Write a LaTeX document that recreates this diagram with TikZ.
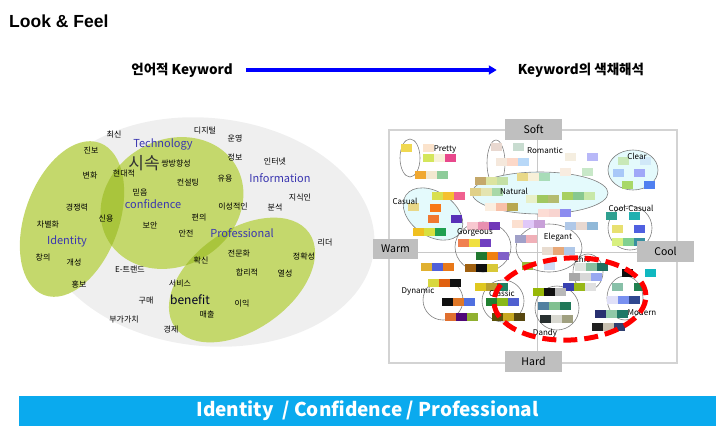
\documentclass[tikz,border=0pt]{standalone}
\usepackage{fontspec}
\setmainfont{Noto Sans CJK KR}
\newfontfamily\arialfont{Liberation Sans}
\usetikzlibrary{arrows.meta}

\definecolor{bggray}{HTML}{EFEFEF}
\definecolor{lgreen}{HTML}{C4D86C}
\definecolor{dgreen}{HTML}{A9C53C}
\definecolor{wordblue}{HTML}{3A36B0}
\definecolor{linegray}{HTML}{C8C8C8}
\definecolor{boxgray}{HTML}{BFBFBF}
\definecolor{lcyan}{HTML}{E4FAFC}
\definecolor{barblue}{HTML}{0AAAEE}

\tikzset{
  kw/.style={inner sep=0pt, font=\fontsize{8}{9}\selectfont},
  en/.style={inner sep=0pt, text=wordblue, font=\fontsize{11}{12}\selectfont},
  tag/.style={inner sep=0pt, font=\fontsize{8}{9}\selectfont},
  axlab/.style={fill=boxgray, inner sep=0pt, minimum width=57pt, minimum height=21pt, font=\fontsize{10.5}{11}\selectfont},
  ring/.style={draw=gray, line width=0.6pt}
}

% one colour chip of the colour chart
\newcommand{\swatch}[3]{\definecolor{swc}{HTML}{#3}\fill[swc] (#1,#2) rectangle ++(11,8);}

\begin{document}
\begin{tikzpicture}[x=1pt, y=-1pt]
\useasboundingbox (0,0) rectangle (723,432);

% Title
\node[anchor=west, inner sep=0pt, font=\arialfont\bfseries\fontsize{17.5}{19}\selectfont] (title) at (9,21) {Look \& Feel};

% Keyword arrow
\node[inner sep=0pt, font=\bfseries\fontsize{13.5}{15}\selectfont] (kwA) at (182,70) {언어적 Keyword};
\node[inner sep=0pt, font=\bfseries\fontsize{13.5}{15}\selectfont] (kwB) at (581,70) {Keyword의 색채해석};
\draw[blue, line width=3.5pt, shorten <=13pt, shorten >=21pt, -{Triangle[length=8pt, width=9pt]}] (kwA) -- (kwB);

%Left: keyword map
\fill[bggray, rotate around={-6:(207,232)}] (207,232) ellipse [x radius=168pt, y radius=114pt];
\fill[lgreen, rotate around={70:(72,219)}] (72,219) ellipse [x radius=81pt, y radius=47pt];
\fill[lgreen, rotate around={30:(172,203)}] (172,203) ellipse [x radius=74pt, y radius=63pt];
\fill[lgreen, rotate around={35:(242,280)}] (242,280) ellipse [x radius=82pt, y radius=50pt];
% overlaps
\begin{scope}
\clip[rotate around={70:(72,219)}] (72,219) ellipse [x radius=81pt, y radius=47pt];
\fill[dgreen, rotate around={30:(172,203)}] (172,203) ellipse [x radius=74pt, y radius=63pt];
\end{scope}
\begin{scope}
\clip[rotate around={35:(242,280)}] (242,280) ellipse [x radius=82pt, y radius=50pt];
\fill[dgreen, rotate around={30:(172,203)}] (172,203) ellipse [x radius=74pt, y radius=63pt];
\end{scope}

% english keywords
\node[en] (tech) at (163,144) {Technology};
\node[en] (info) at (280,178) {Information};
\node[en] (conf) at (153,204) {confidence};
\node[en] (prof) at (242,233) {Professional};
\node[en] (iden) at (67,241) {Identity};
\node[en, text=black!85!blue, font=\fontsize{12}{13}\selectfont] (bene) at (190,300) {benefit};
\node[kw, text=black!80, font=\fontsize{17}{18}\selectfont] (sisok) at (144,163) {시속};

% korean keywords
\node[kw] (choesin) at (114,135) {최신};
\node[kw] (digital) at (205,131) {디지털};
\node[kw] (unyeong) at (235,138) {운영};
\node[kw] (jinbo) at (91,150) {진보};
\node[kw] (jeongbo) at (235,157) {정보};
\node[kw] (ssang) at (176,163) {쌍방향성};
\node[kw] (internet) at (275,162) {인터넷};
\node[kw] (byeonhwa) at (90,175) {변화};
\node[kw] (hyeondae) at (124,173) {현대적};
\node[kw] (yuyong) at (225,179) {유용};
\node[kw] (consult) at (188,182) {컨설팅};
\node[kw] (mideum) at (140,192) {믿음};
\node[kw] (jisik) at (300,197) {지식인};
\node[kw] (gyeong) at (77,208) {경쟁력};
\node[kw] (iseong) at (233,207) {이성적인};
\node[kw] (bunseok) at (275,207) {분석};
\node[kw] (sinyong) at (106,218) {신용};
\node[kw] (pyeonui) at (199,218) {편의};
\node[kw] (chabyeol) at (48,224) {차별화};
\node[kw] (boan) at (150,225) {보안};
\node[kw] (anjeon) at (186,233) {안전};
\node[kw] (rider) at (325,243) {리더};
\node[kw] (changui) at (43,257) {창의};
\node[kw] (jeonmun) at (239,253) {전문화};
\node[kw] (jeonghwak) at (304,256) {정확성};
\node[kw] (hwaksin) at (201,260) {확신};
\node[kw] (gaeseong) at (74,262) {개성};
\node[kw] (etrend) at (130,269) {E-트랜드};
\node[kw] (hamni) at (247,272) {합리적};
\node[kw] (yeolseong) at (285,273) {열성};
\node[kw] (hongbo) at (79,284) {홍보};
\node[kw] (service) at (180,284) {서비스};
\node[kw] (gumae) at (146,301) {구매};
\node[kw] (iik) at (242,304) {이익};
\node[kw] (maechul) at (207,314) {매출};
\node[kw] (bugagachi) at (124,319) {부가가치};
\node[kw] (gyeongje) at (171,329) {경제};

%Right: colour chart frame and axes
\draw[linegray!80, line width=2.5pt] (389,130) rectangle (677,363);
\draw[linegray, line width=0.8pt] (537,130) -- (537,363);
\draw[linegray, line width=0.8pt] (389,252) -- (677,252);

% groups
\draw[ring] (410,158) ellipse [x radius=10pt, y radius=19pt];
\draw[ring] (496,163) ellipse [x radius=9pt, y radius=23pt];
\filldraw[ring, fill=lcyan] (540,193) ellipse [x radius=68pt, y radius=21pt];
\filldraw[ring, fill=lcyan, rotate around={-35:(433,214)}] (433,214) ellipse [x radius=33pt, y radius=22pt];
\filldraw[ring, fill=lcyan] (633,170) ellipse [x radius=25pt, y radius=20pt];
\draw[ring] (630,228) ellipse [x radius=22pt, y radius=22pt];
\draw[ring] (483,247) ellipse [x radius=28pt, y radius=25pt];
\draw[ring] (549,248) ellipse [x radius=33pt, y radius=24pt];
\draw[ring] (588,272) ellipse [x radius=15pt, y radius=18pt];
\draw[ring] (443,300) ellipse [x radius=20pt, y radius=20pt];
\draw[ring] (503,301) ellipse [x radius=21pt, y radius=21pt];
\draw[ring] (557,308) ellipse [x radius=22pt, y radius=22pt];
\draw[ring] (625,298) ellipse [x radius=18pt, y radius=22pt];

%Pretty
\swatch{401}{144}{F0D850} \swatch{423}{144}{FBE3CC}
\swatch{423}{154}{D4E65C} \swatch{434}{154}{F8F2D8} \swatch{445}{154}{E8488C}
\swatch{415}{171}{F0A830} \swatch{426}{171}{F2E8D0} \swatch{437}{171}{8ECC9A}
%Romantic
\swatch{491}{143}{E8D8D0} \swatch{513}{143}{C8DCD0}
\swatch{496}{158}{F5E8DC} \swatch{507}{158}{FCD8C8} \swatch{518}{158}{B8D8F8}
\swatch{565}{153}{F5EEE0} \swatch{587}{153}{B8B8F8}
\swatch{560}{168}{F8ECE0} \swatch{582}{168}{C8E8C8}
%Natural
\swatch{475}{177}{C4A86A} \swatch{486}{177}{DCE4A0} \swatch{497}{177}{C4E0A4}
\swatch{517}{173}{E8D888} \swatch{528}{173}{F8F0D8} \swatch{539}{173}{A8DCB8}
\swatch{470}{188}{E0D088} \swatch{481}{188}{E4E4B0} \swatch{492}{188}{A8D8A8}
\swatch{526}{195}{E8F0C8} \swatch{537}{195}{A0C860} \swatch{548}{195}{B4BC70}
\swatch{562}{192}{A8D060} \swatch{573}{192}{88C890} \swatch{584}{192}{C8E8A8}
\swatch{485}{203}{FBEEE0} \swatch{496}{203}{F8C0A8} \swatch{507}{203}{B8A850}
%Clear
\swatch{618}{157}{C8E8B8} \swatch{640}{157}{D0E8F8}
\swatch{613}{169}{A8C8F8} \swatch{634}{169}{A0A8F8}
\swatch{622}{181}{A8D868} \swatch{644}{181}{5080F0}
%Casual
\swatch{432}{192}{D8E050} \swatch{443}{192}{F5C030} \swatch{454}{192}{F06090}
\swatch{408}{203}{E8D888} \swatch{430}{204}{F87818}
\swatch{428}{215}{F07830} \swatch{451}{215}{5830B8}
\swatch{413}{228}{F0C020} \swatch{424}{228}{D8E040} \swatch{435}{228}{20A050}
%Elegant
\swatch{538}{209}{FCDCD4} \swatch{549}{209}{F8D4D0} \swatch{560}{209}{8C8CF0}
\swatch{512}{220}{FCE0D0} \swatch{523}{220}{E0C8F8} \swatch{534}{220}{C8A0D8}
\swatch{565}{222}{B0C8E8} \swatch{576}{222}{E8D8D0} \swatch{587}{222}{90B8D8}
\swatch{515}{235}{A0A0C8} \swatch{526}{235}{F0B0B8}
\swatch{542}{247}{E8DCD0} \swatch{553}{247}{E8A878} \swatch{564}{247}{B0C8E8}
%Cool-Casual
\swatch{606}{212}{30A090} \swatch{629}{212}{20B0B0}
\swatch{612}{225}{E8E070} \swatch{634}{225}{5060E0}
\swatch{612}{238}{D8F080} \swatch{623}{238}{80D090} \swatch{634}{238}{3890A0}
%Gorgeous
\swatch{467}{222}{F8C8D0} \swatch{478}{222}{E890B0} \swatch{489}{222}{7038B8}
\swatch{458}{239}{F08050} \swatch{469}{239}{F0E040} \swatch{480}{239}{7040C0}
\swatch{476}{252}{207830} \swatch{487}{252}{F08010} \swatch{498}{252}{8060C8}
\swatch{421}{263}{E0B030} \swatch{432}{263}{5060D8} \swatch{443}{263}{E87818}
\swatch{465}{264}{A06010} \swatch{476}{264}{101010} \swatch{487}{264}{D8C838}
%Chic
\swatch{522}{262}{98B838} \swatch{544}{262}{D0DCF8}
\swatch{575}{263}{E0E4E0} \swatch{586}{263}{88C0A0} \swatch{597}{263}{207060}
\swatch{569}{273}{A8A8A8} \swatch{580}{273}{D8D8D8} \swatch{591}{273}{98A8F0}
\swatch{563}{283}{3840B0} \swatch{574}{283}{98B818} \swatch{585}{283}{E0E0E0}
%Modern
\swatch{622}{269}{101010} \swatch{645}{269}{10B8C0}
\swatch{612}{283}{88C0A8} \swatch{634}{283}{208050}
\swatch{607}{296}{E0E0F8} \swatch{618}{296}{7890F0} \swatch{629}{296}{304890}
\swatch{595}{310}{283070} \swatch{606}{310}{90C8A8} \swatch{617}{310}{207868}
\swatch{592}{323}{202020} \swatch{603}{323}{C8C0B0} \swatch{614}{323}{304070}
%Dynamic
\swatch{428}{279}{D8D840} \swatch{439}{279}{E06010} \swatch{450}{279}{101010}
\swatch{475}{283}{E0C820} \swatch{486}{283}{B8A030} \swatch{497}{283}{208060}
\swatch{442}{298}{101010} \swatch{453}{298}{E07828} \swatch{464}{298}{5070E0}
\swatch{445}{313}{E07030} \swatch{456}{313}{500878} \swatch{467}{313}{90B030}
%Classic
\swatch{486}{298}{208030} \swatch{497}{298}{88B818} \swatch{508}{298}{5060D0}
\swatch{492}{313}{585008} \swatch{503}{313}{C8A820} \swatch{514}{313}{584810}
%Dandy
\swatch{533}{288}{98B808} \swatch{544}{288}{101010} \swatch{555}{288}{B8B8B8}
\swatch{538}{302}{5080A0} \swatch{549}{302}{80C090} \swatch{560}{302}{207858}
\swatch{540}{315}{283030} \swatch{551}{315}{D8D8D0} \swatch{562}{315}{A0A080}

% group names
\node[tag] (pretty) at (445,149) {Pretty};
\node[tag] (romantic) at (545,150) {Romantic};
\node[tag] (clear) at (637,156) {Clear};
\node[tag] (natural) at (514,191) {Natural};
\node[tag] (casual) at (405,201) {Casual};
\node[tag] (coolcasual) at (631,208) {Cool-Casual};
\node[tag] (gorgeous) at (475,233) {Gorgeous};
\node[tag] (elegant) at (558,237) {Elegant};
\node[tag] (chic) at (582,259) {Chic};
\node[tag] (dynamic) at (418,291) {Dynamic};
\node[tag] (classic) at (502,293) {Classic};
\node[tag] (modern) at (642,312) {Modern};
\node[tag] (dandy) at (545,333) {Dandy};

% axis names
\node[axlab] (soft) at (533.5,129) {Soft};
\node[axlab, minimum width=45pt, minimum height=20pt] (warm) at (395.5,249) {Warm};
\node[axlab] (cool) at (665.5,251.5) {Cool};
\node[axlab] (hard) at (533.5,361) {Hard};

% selected area
\draw[red, line width=5pt, dash pattern=on 14pt off 7pt, rotate around={3:(570,299)}] (570,299) ellipse [x radius=76pt, y radius=41pt];

% Result bar
\node[fill=barblue, text=white, minimum width=697pt, minimum height=30pt, inner sep=0pt, font=\bfseries\fontsize{19}{21}\selectfont] (result) at (367.5,411) {Identity~~/ Confidence / Professional};

\end{tikzpicture}
\end{document}
